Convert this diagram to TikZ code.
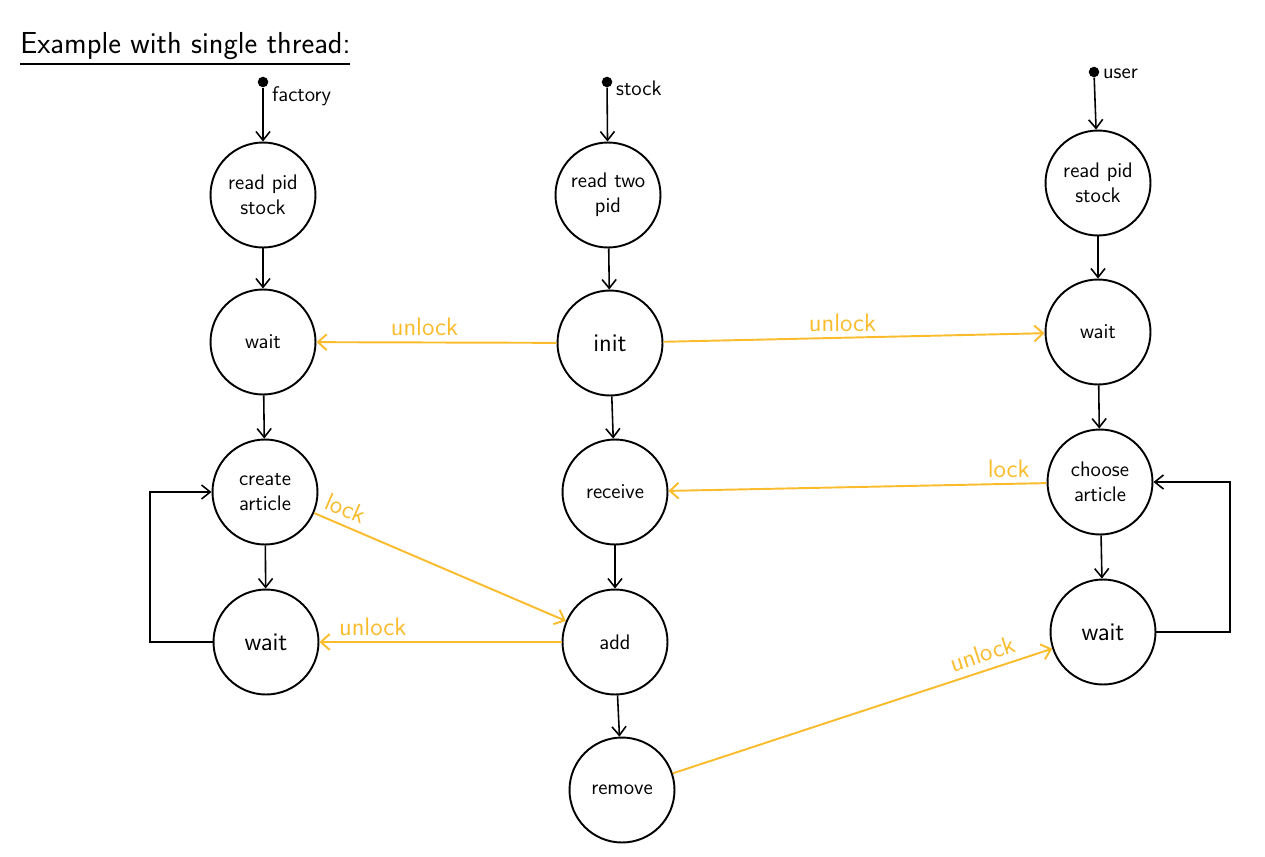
\documentclass[tikz,border=0pt]{standalone}
\usetikzlibrary{arrows.meta}
\definecolor{lockorange}{RGB}{250,188,45}
\begin{document}
\begin{tikzpicture}[
  x=0.02cm, y=-0.02cm,
  state/.style={draw, circle, line width=1.1pt, minimum size=2.1cm, align=center, font=\sffamily\large, inner sep=1pt},
  flow/.style={draw, line width=0.9pt, -{Straight Barb[length=5pt,width=8pt]}},
  sync/.style={draw=lockorange, line width=1.1pt, -{Straight Barb[length=5pt,width=9pt]}},
  synclabel/.style={text=lockorange, font=\sffamily\Large, inner sep=1pt},
  start/.style={circle, fill, inner sep=0pt, minimum size=6pt},
  startlabel/.style={font=\sffamily\large, anchor=west, inner sep=1pt}
]
  \useasboundingbox (0,0) rectangle (1265,856);

  % title
  \node[anchor=south west, font=\sffamily\LARGE, inner sep=0pt] (title) at (20,60) {Example with single thread:};
  \draw[line width=1pt] (title.south west) ++(0,4) -- ++(330,0);

  % factory
  \node[start] (fstart) at (263,82) {};
  \node[startlabel] at (270,96) {factory};
  \node[state] (fread) at (263,195) {read pid\\stock};
  \node[state] (fwait) at (263,342) {wait};
  \node[state] (fcreate) at (265,492) {create\\article};
  \node[state, font=\sffamily\Large] (fwaitb) at (266,642) {wait};

  % stock
  \node[start] (sstart) at (607,82) {};
  \node[startlabel] at (614,88) {stock};
  \node[state] (sread) at (608,195) {read two\\pid};
  \node[state, font=\sffamily\Large] (sinit) at (610,343) {init};
  \node[state] (sreceive) at (615,492) {receive};
  \node[state] (sadd) at (615,642) {add};
  \node[state] (sremove) at (622,790) {remove};

  % user
  \node[start] (ustart) at (1094,72) {};
  \node[startlabel] at (1101,74) {user};
  \node[state] (uread) at (1098,183) {read pid\\stock};
  \node[state] (uwait) at (1098,332) {wait};
  \node[state] (uchoose) at (1100,482) {choose\\article};
  \node[state, font=\sffamily\Large] (uwaitb) at (1103,632) {wait};

  \coordinate (floop) at (150,0);
  \coordinate (uloop) at (1230,0);

  % thread steps
  \draw[flow] (fstart) -- (fread);
  \draw[flow] (fread) -- (fwait);
  \draw[flow] (fwait) -- (fcreate);
  \draw[flow] (fcreate) -- (fwaitb);
  \draw[flow] (fwaitb.west) -- (floop |- fwaitb.west) -- (floop |- fcreate.west) -- (fcreate.west);

  \draw[flow] (sstart) -- (sread);
  \draw[flow] (sread) -- (sinit);
  \draw[flow] (sinit) -- (sreceive);
  \draw[flow] (sreceive) -- (sadd);
  \draw[flow] (sadd) -- (sremove);

  \draw[flow] (ustart) -- (uread);
  \draw[flow] (uread) -- (uwait);
  \draw[flow] (uwait) -- (uchoose);
  \draw[flow] (uchoose) -- (uwaitb);
  \draw[flow] (uwaitb.east) -- (uloop |- uwaitb.east) -- (uloop |- uchoose.east) -- (uchoose.east);

  % lock / unlock
  \draw[sync] (sinit) -- node[synclabel, above=2pt, pos=0.55] {unlock} (fwait);
  \draw[sync] (sinit) -- node[synclabel, above=2pt, pos=0.47] {unlock} (uwait);
  \draw[sync] (uchoose) -- node[synclabel, above=2pt, pos=0.1] {lock} (sreceive);
  \draw[sync] (fcreate) -- node[synclabel, above=3pt, sloped, pos=0.1] {lock} (sadd);
  \draw[sync] (sadd) -- node[synclabel, above=2pt, pos=0.78] {unlock} (fwaitb);
  \draw[sync] (sremove) -- node[synclabel, above=3pt, sloped, pos=0.83] {unlock} (uwaitb);
\end{tikzpicture}
\end{document}
